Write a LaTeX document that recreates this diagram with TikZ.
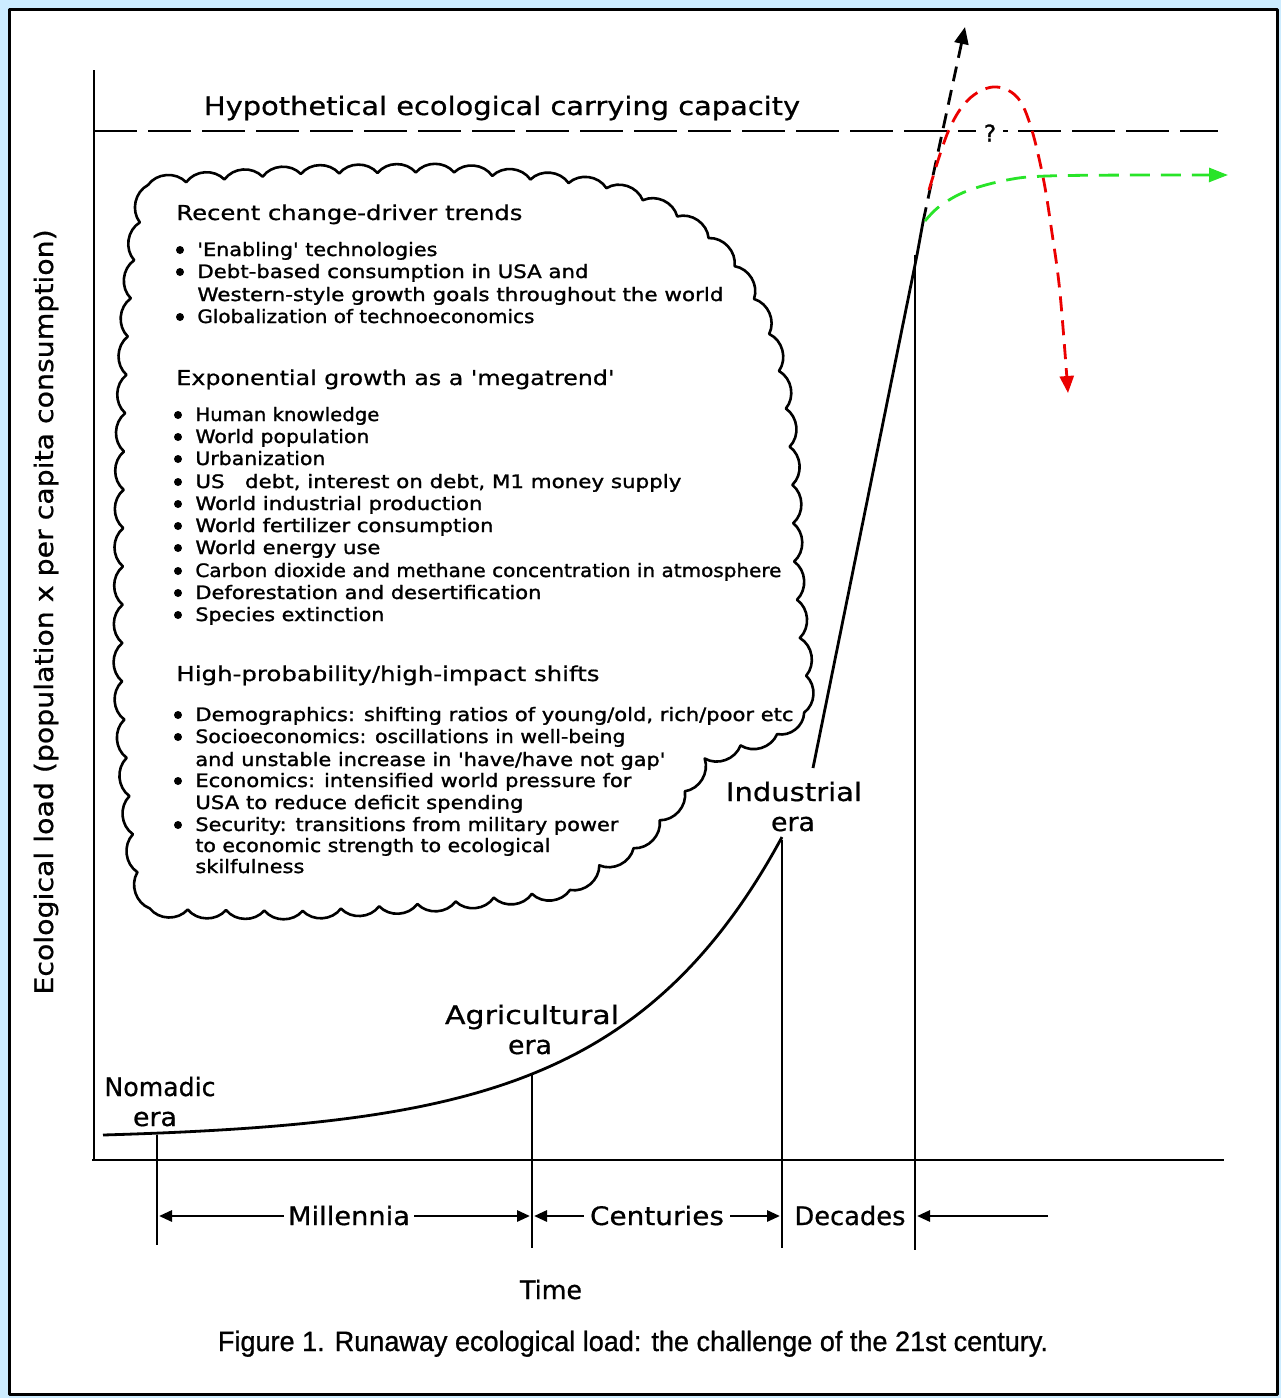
\documentclass[tikz,border=0pt]{standalone}
\usepackage{fontspec}
\usepackage{graphicx}
\usetikzlibrary{decorations.markings,arrows.meta}
\newfontfamily\df{DejaVu Sans}[FakeBold=0.7]
\newfontfamily\dfi{DejaVu Sans}[FakeBold=1.3]
\newfontfamily\cf{Liberation Sans}[FakeBold=0.9]
\definecolor{framebg}{RGB}{204,236,255}
\definecolor{fred}{RGB}{235,0,0}
\definecolor{fgreen}{RGB}{40,228,40}
% stretch a text to a given width (in pt), keeping its height
\newcommand\fw[2]{\resizebox{#1pt}{\height}{#2}}

\begin{document}
\begin{tikzpicture}[x=1pt,y=-1pt,line width=2.8pt,line join=round,
  lab/.style={inner sep=0pt, anchor=base, font=\fontsize{25.5}{30}\selectfont\df},
  head/.style={inner sep=0pt, anchor=base west, font=\fontsize{20.5}{24}\selectfont\df},
  item/.style={inner sep=0pt, anchor=base west, font=\fontsize{18.5}{22}\selectfont\dfi},
  dot/.style={circle, fill=black, draw=none, inner sep=0pt, minimum size=8pt},
  tip/.style={-{Triangle[length=13pt,width=11pt]}},
  caplimit/.style={dash pattern=on 43pt off 11pt},
  future/.style={dash pattern=on 15pt off 9pt}]

% frame
\useasboundingbox (0,0) rectangle (1281,1398);
\fill[framebg] (0,0) rectangle (1281,1398);
\draw[line width=3pt, fill=white] (9.5,9.5) rectangle (1277,1394.5);

% axes
\coordinate (ytop) at (94,70);
\coordinate (orig) at (94,1160);
\coordinate (xend) at (1224,1160);
\draw (ytop) -- (orig);
\draw (92,1160) -- (xend);

% carrying capacity
\node[lab] (title) at (502,115) {\fw{596}{Hypothetical ecological carrying capacity}};
\node[inner sep=0pt, font=\fontsize{23}{26}\selectfont\dfi] (q) at (990,133) {?};
\draw[caplimit] (94,131) -- (976,131);
\draw (1003,131) -- (1008,131);
\draw[caplimit] (1018,131) -- (1218,131);

% y axis label
\node[lab, rotate=90] (ylab) at (53,612) {\fw{765}{Ecological load (population x per capita consumption)}};

% load curve
\draw[domain=103:782, samples=120, smooth] plot (\x, {1135-4.8*(exp(0.0061*(\x-103))-1)});
\coordinate (ind) at (813,768);
\coordinate (now) at (917,255);
\coordinate (fork) at (923,222);
\draw (ind) -- (now) -- (fork);

% era boundaries
\draw (157,1135) -- (157,1245);
\draw (532,1075) -- (532,1248);
\draw (782,840) -- (782,1248);
\draw (915,255) -- (915,1250);

% era labels
\node[lab] (nom1) at (160,1096) {\fw{111}{Nomadic}};
\node[lab] (nom2) at (155,1126) {\fw{44}{era}};
\node[lab] (agr1) at (532,1024) {\fw{174}{Agricultural}};
\node[lab] (agr2) at (530,1054) {\fw{44}{era}};
\node[lab] (ind1) at (794,801) {\fw{136}{Industrial}};
\node[lab] (ind2) at (793,831) {\fw{44}{era}};

% time spans
\node[lab] (mil) at (349,1225) {\fw{122}{Millennia}};
\node[lab] (cen) at (657,1225) {\fw{134}{Centuries}};
\node[lab] (dec) at (850,1225) {\fw{111}{Decades}};
\draw[tip] (mil.west |- 0,1216) ++(-3,0) -- (159,1216);
\draw[tip] (mil.east |- 0,1216) ++(3,0) -- (530,1216);
\draw[tip] (cen.west |- 0,1216) ++(-5,0) -- (534,1216);
\draw[tip] (cen.east |- 0,1216) ++(5,0) -- (780,1216);
\draw[tip] (1048,1216) -- (917,1216);

\node[lab] (time) at (551,1299) {\fw{62}{Time}};
\node[inner sep=0pt, anchor=base, font=\fontsize{28}{32}\selectfont\cf] (caption) at (633,1351)
  {\fw{830}{Figure 1. Runaway ecological load: the challenge of the 21st century.}};

% futures beyond the present
\draw[future, -{Triangle[length=17pt,width=14pt]}] (fork) -- (965,27);
\draw[fred, future, -{Triangle[length=17pt,width=14pt]}] plot[smooth, tension=0.6] coordinates
  {(929,190) (948,132) (968,100) (993,87) (1016,96) (1030,124) (1043,177) (1052,233) (1060,293) (1068,393)};
\draw[fgreen, dash pattern=on 20pt off 11pt, -{Triangle[length=19pt,width=14pt]}] plot[smooth, tension=0.6] coordinates
  {(925,221) (940,206) (967,191) (1007,180) (1047,176) (1140,175) (1228,175)};

% trend cloud: cusps spaced evenly along an outline, joined by outward arcs
\path[decorate, decoration={markings,
    mark=between positions 0 and 0.995 step 0.0151515 with
      {\coordinate (cl-\pgfkeysvalueof{/pgf/decoration/mark info/sequence number});}}]
  (148,185) -- (300,174) -- (450,172) -- (600,186) -- (660,206) -- (703,232)
  -- (740,272) -- (766,322) -- (784,390) -- (792,470) -- (794,560) -- (800,640)
  -- (810,698) -- (798,728) -- (750,742) -- (705,758) -- (686,790) -- (660,820)
  -- (634,848) -- (598,866) -- (570,890) -- (450,902) -- (300,911) -- (150,909)
  -- (136,868) -- (128,780) -- (122,680) -- (123,560) -- (124,450) -- (128,330)
  -- (136,240) -- cycle;
\draw[line width=2.6pt] (cl-1) \foreach \j in {2,...,66} { to[bend left=50] (cl-\j) } to[bend left=50] (cl-1);

% recent change-driver trends
\node[head] (h1) at (175,220) {\fw{346}{Recent change-driver trends}};
\node[item] (a1) at (196,256) {\fw{240}{'Enabling' technologies}};
\node[item] (a2) at (196,278) {\fw{391}{Debt-based consumption in USA and}};
\node[item] (a3) at (196,301) {\fw{526}{Western-style growth goals throughout the world}};
\node[item] (a4) at (196,323) {\fw{337}{Globalization of technoeconomics}};
\foreach \y [count=\i] in {250,272,317} \node[dot] (ba\i) at (180,\y) {};

% exponential growth
\node[head] (h2) at (175,385) {\fw{438}{Exponential growth as a 'megatrend'}};
\node[item] (b1) at (194,421) {\fw{184}{Human knowledge}};
\node[item] (b2) at (194,443) {\fw{174}{World population}};
\node[item] (b3) at (194,465) {\fw{130}{Urbanization}};
\node[item] (b4) at (194,488) {\fw{486}{US\ \ \ debt, interest on debt, M1 money supply}};
\node[item] (b5) at (194,510) {\fw{287}{World industrial production}};
\node[item] (b6) at (194,532) {\fw{298}{World fertilizer consumption}};
\node[item] (b7) at (194,554) {\fw{185}{World energy use}};
\node[item] (b8) at (194,577) {\fw{586}{Carbon dioxide and methane concentration in atmosphere}};
\node[item] (b9) at (194,599) {\fw{346}{Deforestation and desertification}};
\node[item] (b10) at (194,621) {\fw{189}{Species extinction}};
\foreach \y [count=\i] in {415,437,459,482,504,526,548,571,593,615} \node[dot] (bb\i) at (178,\y) {};

% high-probability shifts
\node[head] (h3) at (175,681) {\fw{423}{High-probability/high-impact shifts}};
\node[item] (c1) at (194,721) {\fw{598}{Demographics: shifting ratios of young/old, rich/poor etc}};
\node[item] (c2) at (194,743) {\fw{430}{Socioeconomics: oscillations in well-being}};
\node[item] (c3) at (194,766) {\fw{470}{and unstable increase in 'have/have not gap'}};
\node[item] (c4) at (194,787) {\fw{436}{Economics: intensified world pressure for}};
\node[item] (c5) at (194,809) {\fw{328}{USA to reduce deficit spending}};
\node[item] (c6) at (194,831) {\fw{423}{Security: transitions from military power}};
\node[item] (c7) at (194,852) {\fw{355}{to economic strength to ecological}};
\node[item] (c8) at (194,873) {\fw{109}{skilfulness}};
\foreach \y [count=\i] in {715,737,781,825} \node[dot] (bc\i) at (178,\y) {};
\end{tikzpicture}
\end{document}
